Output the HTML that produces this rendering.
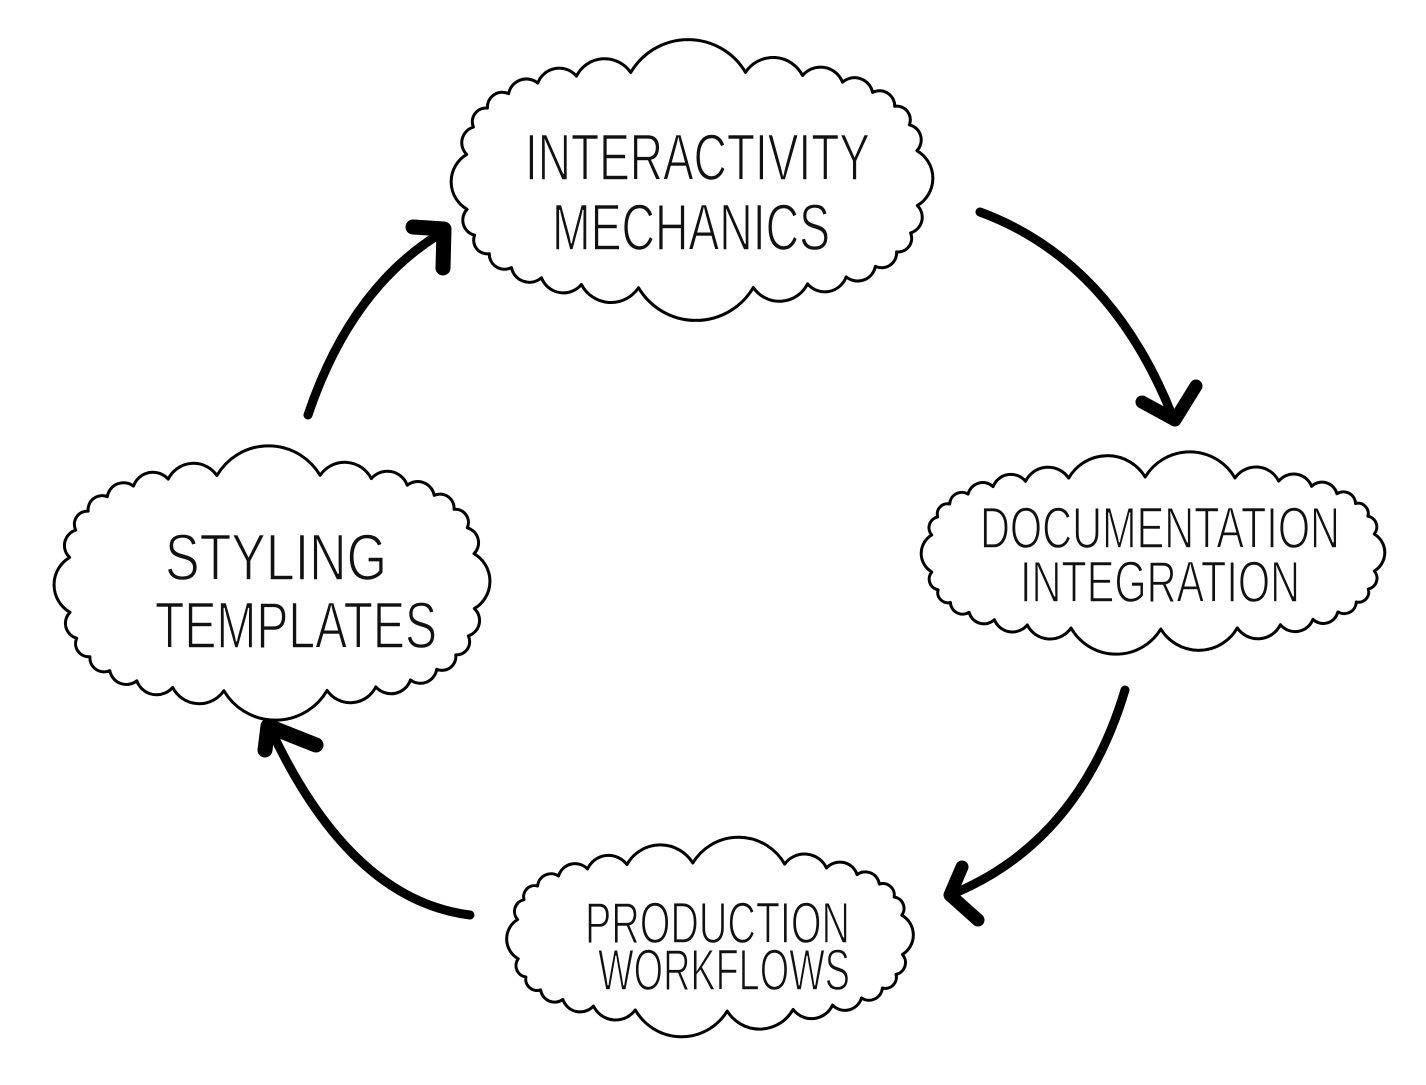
<!DOCTYPE html>
<html><head><meta charset="utf-8"><style>
html,body{margin:0;padding:0;background:#fff;}
svg{display:block;}
text{font-family:"Liberation Sans",sans-serif;fill:#111;stroke:#fff;stroke-width:1.5;}
</style></head><body>
<svg id="s" width="1426" height="1085" viewBox="0 0 1426 1085" xmlns="http://www.w3.org/2000/svg">
<g id="clouds" fill="none" stroke="#000" stroke-width="3" stroke-linejoin="round"></g>
<g fill="none" stroke="#000" stroke-linecap="round" stroke-linejoin="round">
  <path d="M308,415 Q350,290 438,235" stroke-width="9"/>
  <path d="M413,227 L444,229 L443,268" stroke-width="15"/>
  <path d="M980,212 Q1110,260 1172,415" stroke-width="9"/>
  <path d="M1142,402 L1175,420 L1196,386" stroke-width="13"/>
  <path d="M1125,690 Q1080,840 955,893" stroke-width="9"/>
  <path d="M962,867 L950,895 L978,920" stroke-width="13"/>
  <path d="M470,915 Q350,900 270,728" stroke-width="9"/>
  <path d="M265,750 L268,726 L316,745" stroke-width="15"/>
</g>
<g font-size="66">
  <text x="525" y="180" textLength="345" lengthAdjust="spacingAndGlyphs">INTERACTIVITY</text>
  <text x="552" y="250" textLength="278" lengthAdjust="spacingAndGlyphs">MECHANICS</text>
  <text x="165" y="580" textLength="222" lengthAdjust="spacingAndGlyphs">STYLING</text>
  <text x="155" y="648" textLength="282" lengthAdjust="spacingAndGlyphs">TEMPLATES</text>
</g>
<g font-size="58">
  <text x="980" y="548" textLength="360" lengthAdjust="spacingAndGlyphs">DOCUMENTATION</text>
  <text x="1020" y="602" textLength="280" lengthAdjust="spacingAndGlyphs">INTEGRATION</text>
  <text x="585" y="943" textLength="265" lengthAdjust="spacingAndGlyphs">PRODUCTION</text>
  <text x="598" y="990" textLength="252" lengthAdjust="spacingAndGlyphs">WORKFLOWS</text>
</g>
</svg>
<script>
function cloud(cx,cy,rx,ry,n){
  var pts=[],p=3.2;
  for(var i=0;i<n;i++){
    var a=i/n*2*Math.PI+0.1,c=Math.cos(a),s=Math.sin(a);
    pts.push([cx+rx*Math.sign(c)*Math.pow(Math.abs(c),2/p),cy+ry*Math.sign(s)*Math.pow(Math.abs(s),2/p)]);
  }
  var d="M"+pts[0][0].toFixed(1)+","+pts[0][1].toFixed(1);
  for(var i=1;i<=n;i++){
    var q=pts[i%n],pr=pts[i-1];
    var ch=Math.hypot(q[0]-pr[0],q[1]-pr[1]);
    var r=ch*0.58;
    d+=" A"+r.toFixed(1)+","+r.toFixed(1)+" 0 0 1 "+q[0].toFixed(1)+","+q[1].toFixed(1);
  }
  var e=document.createElementNS("http://www.w3.org/2000/svg","path");
  e.setAttribute("d",d+"Z");
  document.getElementById("clouds").appendChild(e);
}
cloud(692,180,226,108,28);
cloud(1153,553,222,76,30);
cloud(710,937,193,74,26);
cloud(272,583,203,108,28);
</script>
</body></html>
